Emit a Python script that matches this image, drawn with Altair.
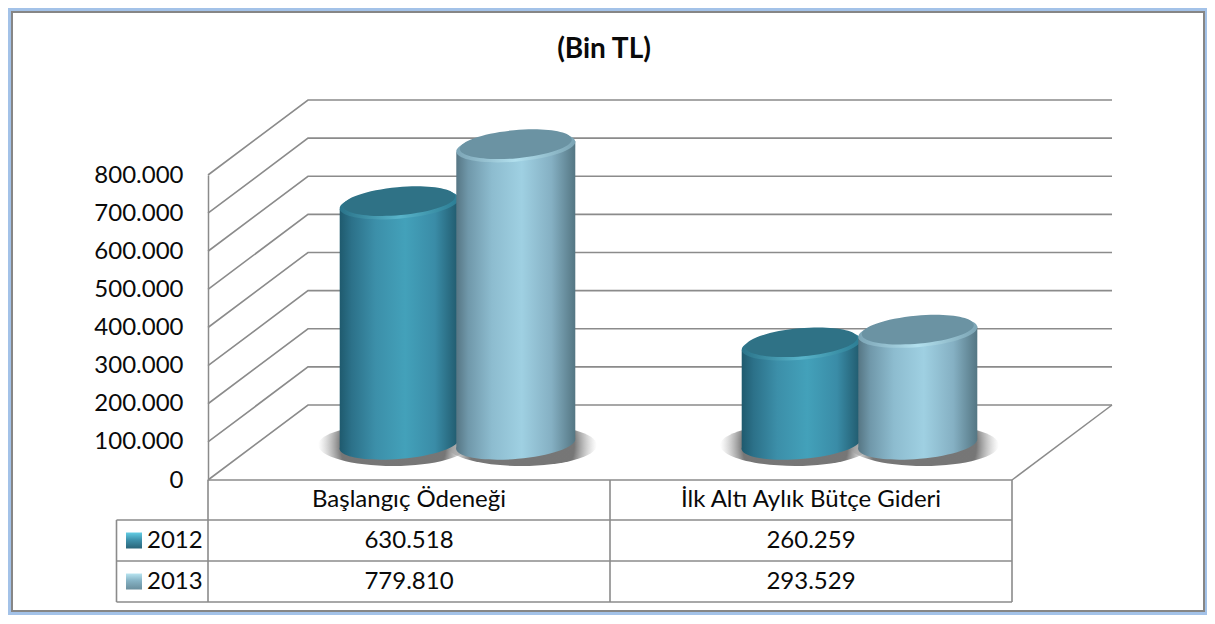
import altair as alt
import pandas as pd

title_text = "(Bin TL)"
categories = ["Başlangıç Ödeneği", "İlk Altı Aylık Bütçe Gideri"]
years = ["2012", "2013"]
values_2012 = [630518, 260259]
values_2013 = [779810, 293529]
ticks = [0, 100000, 200000, 300000, 400000, 500000, 600000, 700000, 800000]

W, H = 804, 305
YMAX, XMAX = 800000, 2
UX = W / XMAX          # px per category
UY = H / YMAX          # px per value unit
def px_x(p): return p / UX
def px_y(p): return p / UY

DX, DY = px_x(100), px_y(75)        # depth of the 3-D box
MID_X, MID_Y = px_x(48.5), px_y(36) # columns stand half way in
COLW = px_x(119)
TILT = px_y(5.5)
OFFS = {"2012": -0.145, "2013": 0.145}
series = {"2012": values_2012, "2013": values_2013}

GRID = "#8b8b8b"
FONT = "Lato"
FS = 24
TXT = "#0a0a0a"

y_scale = alt.Scale(domain=[0, YMAX], nice=False, zero=False)
y_axis = alt.Axis(values=ticks, grid=False, ticks=False, domain=True, domainColor=GRID,
                  domainWidth=1.5, labelFont=FONT, labelFontSize=FS, labelColor=TXT,
                  labelPadding=25, labelOverlap=False, labelBound=False, labelFlush=False, zindex=1,
                  labelExpr="replace(format(datum.value, ',d'), /,/g, '.')")
x_enc = alt.X("x:Q", scale=alt.Scale(domain=[0, XMAX], nice=False, zero=False), axis=None)
y_enc = alt.Y("y:Q", scale=y_scale, title=None, axis=y_axis)
y_plain = y_enc

def grad(stops, horizontal=True):
    return alt.LinearGradient(
        gradient="linear",
        stops=[alt.GradientStop(color=c, offset=o) for o, c in stops],
        x1=0, y1=0, x2=1 if horizontal else 0, y2=0 if horizontal else 1,
    )

BODY = {
    "2012": [(0, "#1f5a6e"), (0.1, "#2c7189"), (0.3, "#3c8fa9"), (0.55, "#43a1ba"), (0.8, "#3a8ca7"), (1, "#20596c")],
    "2013": [(0, "#567684"), (0.1, "#7098aa"), (0.3, "#8dbccf"), (0.55, "#9fd0e2"), (0.8, "#85b0c3"), (1, "#547683")],
}
CAP = {"2012": "#2f7286", "2013": "#6b93a3"}
RIM = {
    "2012": [(0, "#2a7389"), (0.5, "#58b4ca"), (1, "#2b7c93")],
    "2013": [(0, "#7ca5b6"), (0.5, "#b2e0ee"), (1, "#7ba4b4")],
}
SW = {
    "2012": [(0, "#63cde4"), (0.45, "#3f93ad"), (1, "#2a6478")],
    "2013": [(0, "#b8e4f0"), (0.45, "#86b3c5"), (1, "#6a8e9d")],
}

ELLIPSE = "M-1,0.09 A1,0.25 -5 1 1 1,-0.09 A1,0.25 -5 1 1 -1,0.09 Z"
SHADOW = "M-1,0 A1,0.28 0 1 1 1,0 A1,0.28 0 1 1 -1,0 Z"

# Frame
frame = alt.Chart(pd.DataFrame({"a": [0]})).mark_rect(fill="white", stroke="#868686", strokeWidth=2).encode(
    x=alt.value(-196), x2=alt.value(996), y=alt.value(-163), y2=alt.value(436))

# Title
title = alt.Chart(pd.DataFrame([dict(x=px_x(396), y=px_y(430), t=title_text)])).mark_text(
    font=FONT, fontSize=28, fontWeight="bold", color=TXT, align="center", baseline="middle").encode(
    x=x_enc, y=y_plain, text="t:N")

# Walls and floor
g = []
for v in ticks:
    g += [dict(v=v, i=0, x=0, y=v), dict(v=v, i=1, x=DX, y=v + DY), dict(v=v, i=2, x=XMAX + DX, y=v + DY)]
grid = alt.Chart(pd.DataFrame(g)).mark_line(color=GRID, strokeWidth=1.6).encode(
    x=x_enc, y=y_enc, detail="v:N", order="i:Q")
floor_edge = alt.Chart(pd.DataFrame([dict(x=XMAX, y=0, i=0), dict(x=XMAX + DX, y=DY, i=1)])).mark_line(
    color=GRID, strokeWidth=1.5).encode(x=x_enc, y=y_plain, order="i:Q")

# Table
rows = [0, px_y(-40), px_y(-81), px_y(-122)]
LEFT = px_x(-91.5)
segs = [(0, rows[0], XMAX, rows[0]), (LEFT, rows[1], XMAX, rows[1]), (LEFT, rows[2], XMAX, rows[2]),
        (LEFT, rows[3], XMAX, rows[3]), (LEFT, rows[1], LEFT, rows[3]), (0, 0, 0, rows[3]),
        (1, 0, 1, rows[3]), (XMAX, 0, XMAX, rows[3])]
table = alt.Chart(pd.DataFrame([dict(x=a, y=b, x2=c, y2=d) for a, b, c, d in segs])).mark_rule(
    color=GRID, strokeWidth=1.6).encode(x=x_enc, y=y_plain, x2="x2:Q", y2="y2:Q")

def row_mid(k):
    return (rows[k] + rows[k + 1]) / 2

texts = [dict(x=i + 0.5, y=row_mid(0), t=c) for i, c in enumerate(categories)]
for k, yr in enumerate(years):
    for i, v in enumerate(series[yr]):
        texts.append(dict(x=i + 0.5, y=row_mid(k + 1), t=f"{v:,}".replace(",", ".")))
table_text = alt.Chart(pd.DataFrame(texts)).mark_text(
    font=FONT, fontSize=FS, color=TXT, align="center", baseline="middle").encode(
    x=x_enc, y=y_plain, text="t:N")

leg_text = alt.Chart(pd.DataFrame([dict(x=px_x(-61), y=row_mid(k + 1), t=yr) for k, yr in enumerate(years)])).mark_text(
    font=FONT, fontSize=FS, color=TXT, align="left", baseline="middle").encode(
    x=x_enc, y=y_plain, text="t:N")

def swatch(k, yr):
    d = pd.DataFrame([dict(x=px_x(-74), y=row_mid(k + 1))])
    return alt.Chart(d).mark_point(filled=True, shape="square", size=256, opacity=1,
                                   fill=grad(SW[yr], horizontal=False), strokeWidth=0).encode(x=x_enc, y=y_plain)

def base_df(yr):
    return pd.DataFrame([dict(x=i + 0.5 + MID_X + OFFS[yr], y=MID_Y, v=v, g=i) for i, v in enumerate(series[yr])])

def shadow(yr, shift):
    d = base_df(yr)
    d["x"] = d["x"] + px_x(shift)
    d["y"] = d["y"] + px_y(-1)
    fill = alt.RadialGradient(gradient="radial", stops=[
        alt.GradientStop(color="rgba(60,60,60,0.7)", offset=0),
        alt.GradientStop(color="rgba(60,60,60,0.7)", offset=0.7),
        alt.GradientStop(color="rgba(140,140,140,0)", offset=1)])
    return alt.Chart(d).mark_point(filled=True, shape=SHADOW, size=150 ** 2, fill=fill, opacity=1, strokeWidth=0).encode(
        x=x_enc, y=y_plain)

def column(yr):
    base = base_df(yr)
    pts = []
    for _, r in base.iterrows():
        pts.append(dict(g=int(r.g), x=r.x - COLW / 2, y=r.y + r.v - TILT, y2=r.y - TILT))
        pts.append(dict(g=int(r.g), x=r.x + COLW / 2, y=r.y + r.v + TILT, y2=r.y + TILT))
    fill = grad(BODY[yr])
    bottom = alt.Chart(base).mark_point(filled=True, shape=ELLIPSE, size=119 ** 2, fill=fill, opacity=1, strokeWidth=0).encode(
        x=x_enc, y=y_plain)
    body = alt.Chart(pd.DataFrame(pts)).mark_area(fill=fill, opacity=1, orient="vertical").encode(
        x=x_enc, y=alt.Y("y:Q", scale=y_scale, stack=None, title=None, axis=y_axis),
        y2="y2:Q", detail="g:N")
    top = base.copy()
    top["y"] = top["y"] + top["v"]
    rim = alt.Chart(top).mark_point(filled=True, shape=ELLIPSE, size=119 ** 2, fill=grad(RIM[yr]), opacity=1, strokeWidth=0).encode(
        x=x_enc, y=y_plain)
    inner = top.copy()
    inner["y"] = inner["y"] + px_y(2.5)
    cap = alt.Chart(inner).mark_point(filled=True, shape=ELLIPSE, size=112 ** 2, fill=CAP[yr], opacity=1, strokeWidth=0).encode(
        x=x_enc, y=y_plain)
    return [bottom, body, rim, cap]

chart = alt.layer(
    frame, title, grid, floor_edge, table, table_text, leg_text,
    swatch(0, "2012"), swatch(1, "2013"),
    shadow("2012", -6), shadow("2013", 6),
    *column("2012"), *column("2013"),
).properties(
    width=W, height=H,
    autosize=alt.AutoSizeParams(type="none"),
    padding={"left": 200, "top": 167, "right": 195, "bottom": 135},
    background="#a3c2e8",
).configure_view(stroke=None)

chart.save("out.html", embed_options={"renderer": "svg", "actions": False})
